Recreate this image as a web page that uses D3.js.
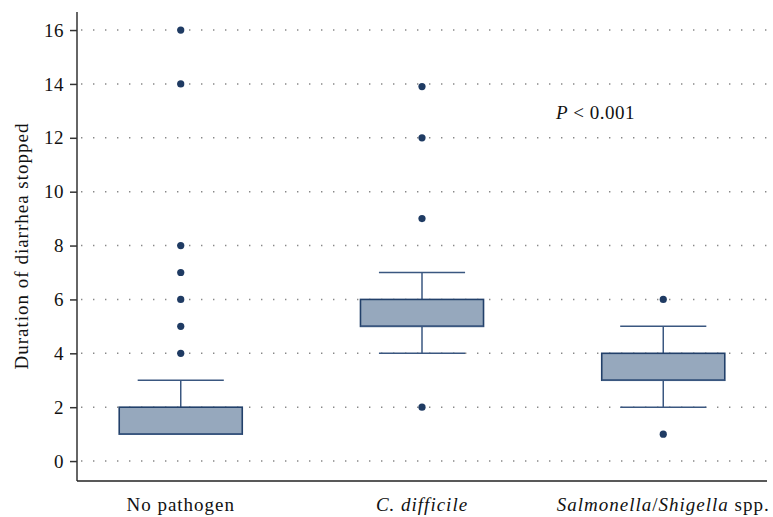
<html lang="en">
<head>
<meta charset="UTF-8">
<title>Duration of diarrhea</title>
<style>
  body { margin: 0; background: #fff; }
  text { font-family: "Liberation Serif", "Times New Roman", serif; fill: #111; }
  .grid line { stroke: #888; stroke-width: 1.4px; stroke-dasharray: 1.4 10.6; }
  .box { fill: #96a8bd; stroke: #22406a; stroke-width: 1.6px; }
  .whisker { stroke: #3a5780; stroke-width: 1.5px; }
  .outlier { fill: #1f3b63; }
  .axis path, .axis line { stroke: #333; stroke-width: 1.5px; }
  .axis text { font-family: "Liberation Serif", serif; font-size: 19px; fill: #111; letter-spacing: 0.5px; }
  .lbl { font-size: 19px; letter-spacing: 1px; }
</style>
</head>
<body>
<script src="https://cdnjs.cloudflare.com/ajax/libs/d3/7.8.5/d3.min.js"></script>
<script>

var categories = ["No pathogen", "C. difficile", "Salmonella/Shigella spp."];
var q1 = [1, 5, 3],
    median = [1, 5, 3],
    q3 = [2, 6, 4],
    whiskerLow = [1, 4, 2],
    whiskerHigh = [3, 7, 5];
var outliers = [
  [4, 5, 6, 7, 8, 14, 16],
  [2, 9, 12, 13.9],
  [1, 6]
];
var yTicks = [0, 2, 4, 6, 8, 10, 12, 14, 16];

var width = 773, height = 517;
var plotLeft = 77, plotRight = 767, plotTop = 12, plotBottom = 481;

var svg = d3.select("body").append("svg")
  .attr("width", width)
  .attr("height", height);

var y = d3.scaleLinear()
  .domain([-0.74, 16.67])
  .range([plotBottom, plotTop]);

var x = d3.scalePoint()
  .domain(categories)
  .range([plotLeft, plotRight])
  .padding(0.43);

var boxW = x.step() * 0.51,
    capW = boxW * 0.7;

// dotted grid
svg.append("g")
  .attr("class", "grid")
  .selectAll("line")
  .data(yTicks)
  .enter().append("line")
    .attr("x1", plotLeft + 4)
    .attr("x2", plotRight)
    .attr("y1", function(d) { return y(d); })
    .attr("y2", function(d) { return y(d); });

var groups = svg.selectAll(".cat")
  .data(categories)
  .enter().append("g")
    .attr("class", "cat");

groups.append("line")
  .attr("class", "whisker")
  .attr("x1", function(d) { return x(d); })
  .attr("x2", function(d) { return x(d); })
  .attr("y1", function(d, i) { return y(whiskerLow[i]); })
  .attr("y2", function(d, i) { return y(whiskerHigh[i]); });

groups.each(function(d, i) {
  var g = d3.select(this);
  [whiskerLow[i], whiskerHigh[i]].forEach(function(v, k) {
    if ((k === 0 && v === q1[i]) || (k === 1 && v === q3[i])) return;
    g.append("line")
      .attr("class", "whisker")
      .attr("x1", x(d) - capW / 2)
      .attr("x2", x(d) + capW / 2)
      .attr("y1", y(v))
      .attr("y2", y(v));
  });
});

groups.append("rect")
  .attr("class", "box")
  .attr("x", function(d) { return x(d) - boxW / 2; })
  .attr("width", boxW)
  .attr("y", function(d, i) { return y(q3[i]); })
  .attr("height", function(d, i) { return y(q1[i]) - y(q3[i]); });

groups.append("line")
  .attr("class", "whisker")
  .attr("x1", function(d) { return x(d) - boxW / 2; })
  .attr("x2", function(d) { return x(d) + boxW / 2; })
  .attr("y1", function(d, i) { return y(median[i]); })
  .attr("y2", function(d, i) { return y(median[i]); });

groups.selectAll("circle")
  .data(function(d, i) { return outliers[i].map(function(v) { return [d, v]; }); })
  .enter().append("circle")
    .attr("class", "outlier")
    .attr("cx", function(p) { return x(p[0]); })
    .attr("cy", function(p) { return y(p[1]); })
    .attr("r", 3.6);

// axes
var yAxis = svg.append("g")
  .attr("class", "axis")
  .attr("transform", "translate(" + plotLeft + ",0)")
  .call(d3.axisLeft(y).tickValues(yTicks).tickSize(7).tickPadding(6))
  .attr("font-family", null)
  .attr("font-size", null);
yAxis.select(".domain").attr("d", "M0," + plotTop + "V" + plotBottom);
yAxis.selectAll("text").attr("fill", null);

svg.append("line")
  .attr("x1", plotLeft).attr("x2", plotRight)
  .attr("y1", plotBottom).attr("y2", plotBottom)
  .style("stroke", "#222").style("stroke-width", 1.5);

// category labels
var labels = svg.selectAll(".catlabel")
  .data(categories)
  .enter().append("text")
    .attr("class", "catlabel lbl")
    .attr("x", function(d) { return x(d); })
    .attr("y", 511)
    .attr("text-anchor", "middle");

labels.each(function(d, i) {
  var t = d3.select(this);
  if (i === 0) t.text(d);
  else if (i === 1) t.append("tspan").style("font-style", "italic").text(d);
  else {
    t.append("tspan").style("font-style", "italic").text("Salmonella");
    t.append("tspan").text("/");
    t.append("tspan").style("font-style", "italic").text("Shigella");
    t.append("tspan").text(" spp.");
  }
});

svg.append("text")
  .attr("class", "lbl")
  .attr("transform", "translate(28,246) rotate(-90)")
  .attr("text-anchor", "middle")
  .text("Duration of diarrhea stopped");

var ptext = svg.append("text")
  .attr("class", "lbl")
  .attr("x", 556)
  .attr("y", 119)
  .style("letter-spacing", "0.5px");
ptext.append("tspan").style("font-style", "italic").text("P");
ptext.append("tspan").text(" < 0.001");

</script>
</body>
</html>
